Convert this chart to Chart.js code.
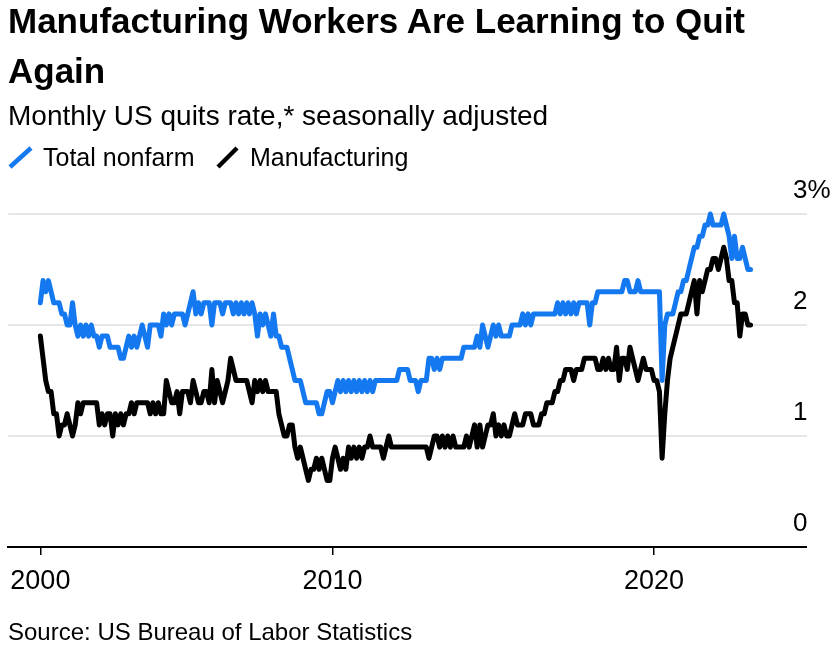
<!DOCTYPE html>
<html>
<head>
<meta charset="utf-8">
<script src="https://cdn.jsdelivr.net/npm/chart.js@4.4.1/dist/chart.umd.min.js"></script>
<style>
html,body{margin:0;padding:0;background:#fff;}
body{width:833px;height:650px;position:relative;overflow:hidden;font-family:"Liberation Sans",Arial,sans-serif;color:#000;}
#chart{position:absolute;left:0;top:0;}
#title{position:absolute;left:8px;top:-4px;font-weight:bold;font-size:35px;line-height:50px;white-space:nowrap;}
#subtitle{position:absolute;left:8px;top:102px;font-size:28px;line-height:28px;white-space:nowrap;}
.leg{position:absolute;top:145px;font-size:25px;line-height:25px;white-space:nowrap;}
#legsvg{position:absolute;left:0;top:140px;}
#source{position:absolute;left:8px;top:620px;font-size:24px;line-height:24px;white-space:nowrap;}
</style>
</head>
<body>
<canvas id="chart" width="833" height="650"></canvas>
<div id="title">Manufacturing Workers Are Learning to Quit<br>Again</div>
<div id="subtitle">Monthly US quits rate,* seasonally adjusted</div>
<svg id="legsvg" width="260" height="35">
  <line x1="10" y1="27" x2="31" y2="8" stroke="#1479f0" stroke-width="4.5"/>
  <line x1="218" y1="27" x2="237" y2="8" stroke="#000" stroke-width="4.5"/>
</svg>
<div class="leg" style="left:43px">Total nonfarm</div>
<div class="leg" style="left:250px">Manufacturing</div>
<div id="source">Source: US Bureau of Labor Statistics</div>
<script>
// Monthly series, starting December 2000
const startYear = 2000;
const startMonth = 12;

const seriesNames = ['Total nonfarm', 'Manufacturing'];

const totalNonfarm = [
  2.2,2.4,2.3,2.4,2.3,2.2,2.2,2.2,2.1,2.1,
  2.0,2.0,2.2,2.0,1.9,2.0,1.9,2.0,1.9,2.0,
  1.9,1.9,1.8,1.9,1.9,1.9,1.8,1.8,1.8,1.8,
  1.7,1.7,1.8,1.9,1.8,1.9,1.8,1.9,2.0,1.9,
  1.8,2.0,2.0,2.0,2.0,1.9,2.1,2.0,2.1,2.0,
  2.1,2.1,
  2.1,2.1,2.0,2.1,2.2,2.3,2.1,2.2,2.1,2.2,
  2.2,2.2,2.0,2.2,2.2,2.2,2.1,2.2,2.2,2.2,
  2.1,2.2,2.1,2.2,2.1,2.2,2.1,2.2,2.1,1.9,
  2.1,2.0,2.1,2.0,1.9,2.1,1.9,1.9,1.8,1.8,
  1.8,1.7,1.6,1.5,1.5,1.5,1.4,1.3,1.3,1.3,
  1.3,1.3,1.2,1.2,1.3,1.4,
  1.4,1.3,1.4,1.5,1.4,1.5,1.4,1.5,1.4,1.5,
  1.4,1.5,1.4,1.5,1.4,1.5,1.4,1.5,1.5,1.5,
  1.5,1.5,1.5,1.5,1.5,1.5,1.6,1.6,1.6,1.6,
  1.5,1.5,1.5,1.4,1.5,1.5,1.5,1.7,1.7,1.6,
  1.7,1.6,1.7,1.7,1.7,1.7,1.7,1.7,1.7,1.7,
  1.8,1.8,1.8,1.8,1.8,1.9,1.8,2.0,1.9,1.8,
  1.9,2.0,1.9,2.0,1.9,1.9,1.9,1.9,2.0,2.0,
  2.0,2.0,2.1,2.0,2.1,2.0,2.1,2.1,2.1,2.1,
  2.1,2.1,2.1,2.1,2.1,2.2,2.1,2.2,2.1,2.2,
  2.1,2.2,2.1,2.2,2.2,2.2,2.2,2.0,2.2,2.2,
  2.3,2.3,2.3,2.3,2.3,2.3,2.3,2.3,2.3,2.3,
  2.4,2.4,2.3,2.3,2.3,2.4,2.3,2.3,2.3,2.3,
  2.3,2.3,2.3,
  2.3,1.5,
  2.0,2.1,2.1,2.1,2.2,2.3,2.3,2.4,2.4,2.5,
  2.6,2.7,2.7,2.8,2.8,2.9,2.9,3.0,2.9,2.9,
  2.9,2.9,3.0,2.9,2.8,2.6,2.8,2.6,2.6,2.7,
  2.6,2.5,2.5
];

const manufacturing = [
  1.9,1.7,1.5,1.4,1.4,1.2,1.2,1.0,1.1,1.1,
  1.2,1.1,1.0,1.1,1.3,1.2,1.3,1.3,1.3,1.3,
  1.3,1.3,1.1,1.2,1.1,1.2,1.2,1.0,1.2,1.1,
  1.2,1.1,1.2,1.2,1.3,1.2,1.3,1.3,1.3,1.3,
  1.3,1.2,1.3,1.2,1.3,1.2,1.2,1.5,1.4,1.3,
  1.3,1.4,
  1.2,1.4,1.4,1.4,1.3,1.5,1.4,1.3,1.3,1.4,
  1.4,1.3,1.6,1.3,1.5,1.4,1.3,1.4,1.5,1.7,
  1.6,1.5,1.5,1.5,1.5,1.5,1.4,1.3,1.5,1.4,
  1.5,1.4,1.5,1.4,1.4,1.4,1.4,1.2,1.1,1.0,
  1.0,1.1,1.1,0.9,0.8,0.9,0.8,0.7,0.6,0.7,
  0.7,0.8,0.7,0.8,0.7,0.6,
  0.6,0.8,0.9,0.8,0.7,0.8,0.7,0.9,0.8,0.9,
  0.8,0.9,0.8,0.9,0.9,1.0,0.9,0.9,0.9,0.9,
  0.8,0.9,1.0,0.9,0.9,0.9,0.9,0.9,0.9,0.9,
  0.9,0.9,0.9,0.9,0.9,0.9,0.9,0.8,0.9,1.0,
  1.0,0.9,1.0,0.9,1.0,0.9,1.0,0.9,0.9,0.9,
  0.9,1.0,0.9,1.0,1.1,0.9,1.1,0.9,1.0,1.1,
  1.1,1.2,1.0,1.1,1.0,1.1,1.0,1.0,1.1,1.2,
  1.1,1.1,1.1,1.2,1.2,1.2,1.1,1.1,1.1,1.2,
  1.2,1.3,1.3,1.3,1.4,1.4,1.5,1.5,1.6,1.6,
  1.6,1.5,1.6,1.6,1.6,1.7,1.7,1.7,1.7,1.7,
  1.6,1.6,1.7,1.6,1.7,1.6,1.6,1.8,1.5,1.7,
  1.7,1.6,1.8,1.7,1.6,1.5,
  1.6,1.7,1.6,1.6,1.6,1.5,1.5,1.4,0.8,1.2,
  1.5,1.7,1.8,1.9,2.0,2.1,2.1,2.1,2.2,2.3,
  2.4,2.1,2.4,2.3,2.4,2.5,2.5,2.6,2.6,2.5,
  2.6,2.7,2.6,2.4,2.4,2.2,2.2,1.9,2.1,2.1,
  2.0,2.0
];

const xTickLabels = ['2000', '2010', '2020'];
const xTickValues = [startYear + (startMonth - 1) / 12, 2010, 2020];
const yTickValues = [0, 1, 2, 3];
const yTickLabels = ['0', '1', '2', '3%'];

// time position of each month (decimal years)
const monthX = totalNonfarm.map((_, i) => startYear + (startMonth - 1 + i) / 12);
const toPoints = arr => arr.map((v, i) => ({ x: monthX[i], y: v }));

Chart.defaults.font.family = '"Liberation Sans", Arial, sans-serif';
Chart.defaults.color = '#000';

new Chart(document.getElementById('chart'), {
  type: 'line',
  data: {
    datasets: [
      { label: seriesNames[0], data: toPoints(totalNonfarm), borderColor: '#1479f0', borderWidth: 5,
        pointRadius: 0, tension: 0, borderJoinStyle: 'round', borderCapStyle: 'round', order: 1, clip: false },
      { label: seriesNames[1], data: toPoints(manufacturing), borderColor: '#000000', borderWidth: 5,
        pointRadius: 0, tension: 0, borderJoinStyle: 'round', borderCapStyle: 'round', order: 0, clip: false }
    ]
  },
  options: {
    responsive: false,
    animation: false,
    devicePixelRatio: 1,
    layout: { padding: { left: 8, right: 0, top: 214, bottom: 43 } },
    plugins: { legend: { display: false }, tooltip: { enabled: false } },
    scales: {
      x: {
        type: 'linear',
        min: 1999.92,
        max: 2024.32,
        afterBuildTicks: s => { s.ticks = xTickValues.map(v => ({ value: v })); },
        afterFit: s => { s.height = 60; },
        ticks: {
          callback: (v, i) => xTickLabels[i],
          font: { size: 27 },
          padding: 10,
          maxRotation: 0,
          autoSkip: false,
          color: '#000'
        },
        grid: { drawOnChartArea: false, drawTicks: true, tickLength: 8, color: '#000', lineWidth: 1.5 },
        border: { display: true, color: '#000', width: 2 }
      },
      y: {
        position: 'right',
        min: 0,
        max: 3,
        afterBuildTicks: s => { s.ticks = yTickValues.map(v => ({ value: v })); },
        afterFit: s => { s.width = 40; },
        ticks: {
          callback: (v, i) => yTickLabels[i],
          font: { size: 26 },
          padding: -14,
          labelOffset: -23,
          color: '#000'
        },
        grid: {
          drawTicks: true,
          tickLength: 14,
          color: c => (c.tick && c.tick.value === 0) ? '#000' : '#e6e6e6',
          lineWidth: 2
        },
        border: { display: false }
      }
    }
  }
});
</script>
</body>
</html>
